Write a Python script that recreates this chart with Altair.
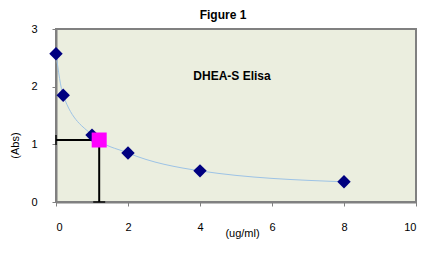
import altair as alt
import pandas as pd

# Standard curve points
std_conc = [0, 0.2, 1, 2, 4, 8]
std_abs = [2.57, 1.85, 1.16, 0.85, 0.54, 0.35]

# Sample (interpolated unknown)
sample_conc = [1.2]
sample_abs = [1.075]

x_ticks = [0, 2, 4, 6, 8, 10]
y_ticks = [0, 0.5, 1, 1.5, 2, 2.5, 3]

std = pd.DataFrame({"x": std_conc, "y": std_abs})
smp = pd.DataFrame({"x": sample_conc, "y": sample_abs, "x0": [0], "y0": [0]})

xs = alt.Scale(domain=[0, 10], nice=False)
ys = alt.Scale(domain=[0, 3], nice=False)

X = alt.X("x:Q", scale=xs, axis=alt.Axis(
    values=x_ticks, format="~r", title="(ug/ml)", grid=False, domainColor="#808080", domainWidth=2,
    tickColor="#808080", tickSize=4, labelPadding=15, labelFontSize=11, labelColor="#000",
    labelFont="Liberation Sans", titleFont="Liberation Sans", titleFontWeight="normal",
    titleFontSize=11, titleColor="#000", titleX=186, titleY=31, titleBaseline="middle"))
Y = alt.Y("y:Q", scale=ys, axis=alt.Axis(
    values=y_ticks, format="~r", title="(Abs)", grid=False, domainColor="#808080", domainWidth=2,
    tickColor="#808080", tickSize=4, labelPadding=15, labelFontSize=11, labelColor="#000",
    labelFont="Liberation Sans", titleFont="Liberation Sans", titleFontWeight="normal",
    titleFontSize=11, titleColor="#000", titleX=-41, titleY=116, titleBaseline="middle"))

curve = alt.Chart(std).mark_line(color="#9DC3E6", strokeWidth=1, interpolate="monotone").encode(x=X, y=Y)
pts = alt.Chart(std).mark_point(shape="diamond", filled=True, color="#000080", size=180, opacity=1).encode(x=X, y=Y)

hbar = alt.Chart(smp).mark_rule(color="#000", strokeWidth=2).encode(x="x0:Q", x2="x", y="y:Q")
vbar = alt.Chart(smp).mark_rule(color="#000", strokeWidth=2).encode(x="x:Q", y="y0:Q", y2="y")
cap_left = alt.Chart(smp).mark_tick(color="#000", thickness=2, size=10, orient="vertical").encode(x="x0:Q", y="y:Q")
cap_bot = alt.Chart(smp).mark_tick(color="#000", thickness=2, size=12, orient="horizontal").encode(x="x:Q", y="y0:Q")
sq = alt.Chart(smp).mark_point(shape="square", filled=True, color="#FF00FF", size=225, opacity=1).encode(x="x:Q", y="y:Q")

label = alt.Chart(pd.DataFrame({"t": ["DHEA-S Elisa"]})).mark_text(
    font="Liberation Sans", fontSize=12, fontWeight="bold", color="#000"
).encode(text="t:N", x=alt.value(176), y=alt.value(47))

title = alt.Chart(pd.DataFrame({"t": ["Figure 1"]})).mark_text(
    font="Liberation Sans", fontSize=12, fontWeight="bold", color="#000"
).encode(text="t:N", x=alt.value(167), y=alt.value(-14))

chart = alt.layer(curve, hbar, vbar, cap_left, cap_bot, pts, sq, label, title).properties(
    width=360, height=173,
    autosize=alt.AutoSizeParams(type="none"),
    padding={"left": 48, "top": 21, "right": 7, "bottom": 38},
    background="#FFFFFF",
).configure_view(fill="#EBEEDF", stroke="#808080", strokeWidth=2)

chart.save("out.html", embed_options={"renderer": "svg", "actions": False})
